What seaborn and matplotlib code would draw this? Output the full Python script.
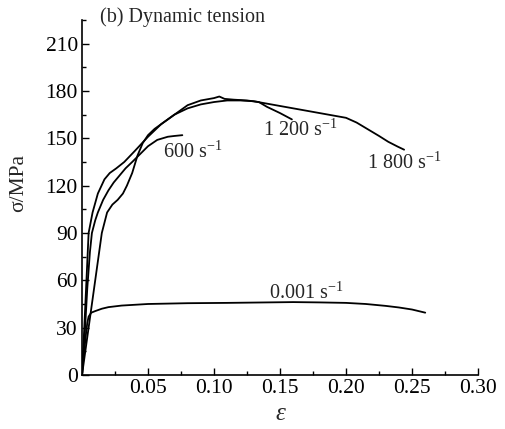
import numpy as np
import pandas as pd
import seaborn as sns
import matplotlib.pyplot as plt
from matplotlib.ticker import MultipleLocator

# strain / stress values
eps_0001 = [0, 0.001, 0.002, 0.003, 0.004, 0.005, 0.007, 0.010, 0.015, 0.020, 0.030,
            0.050, 0.080, 0.110, 0.140, 0.160, 0.180, 0.200, 0.215, 0.230, 0.240, 0.250, 0.260]
sig_0001 = [0, 10, 18, 26, 33, 37, 39.5, 40.5, 42, 43, 44,
            45, 45.5, 45.7, 46, 46.2, 46, 45.7, 45, 43.8, 42.8, 41.5, 39.5]

eps_600 = [0, 0.002, 0.004, 0.006, 0.0075, 0.010, 0.012, 0.016, 0.020, 0.024, 0.028,
           0.033, 0.038, 0.044, 0.050, 0.057, 0.065, 0.070, 0.076]
sig_600 = [0, 25, 55, 78, 90, 98, 103, 111, 117, 122, 126,
           131, 135, 140, 145, 149, 151, 151.5, 152]

eps_1200 = [0, 0.005, 0.010, 0.015, 0.019, 0.023, 0.027, 0.031, 0.034, 0.038, 0.042,
            0.046, 0.050, 0.055, 0.060, 0.070, 0.080, 0.090, 0.100, 0.104, 0.108,
            0.115, 0.125, 0.134, 0.140, 0.150, 0.159]
sig_1200 = [0, 30, 60, 90, 103, 108, 111, 115, 120, 128, 139,
            147, 152, 156, 159, 165, 171, 174, 175.5, 176.5, 175,
            174.5, 174, 173, 170, 166, 162]

eps_1800 = [0, 0.002, 0.005, 0.008, 0.012, 0.017, 0.021, 0.026, 0.032, 0.040, 0.050,
            0.060, 0.070, 0.080, 0.090, 0.100, 0.110, 0.120, 0.130, 0.140, 0.150,
            0.160, 0.170, 0.180, 0.190, 0.200, 0.208, 0.217, 0.225, 0.232, 0.239, 0.244]
sig_1800 = [0, 35, 90, 103, 115, 124, 128, 131, 135, 142, 151,
            159, 165, 169, 171.5, 173, 174, 174, 173.5, 172, 170.5,
            169, 167.5, 166, 164.5, 163, 160, 155.5, 151.5, 147.8, 144.8, 142.8]

curves = {"0.001": (eps_0001, sig_0001), "600": (eps_600, sig_600),
          "1200": (eps_1200, sig_1200), "1800": (eps_1800, sig_1800)}
df = pd.concat([pd.DataFrame({"eps": e, "sig": s, "rate": k}) for k, (e, s) in curves.items()])

sns.set_theme(style="ticks")
plt.rcParams["font.family"] = ["Liberation Serif", "DejaVu Serif"]
plt.rcParams["mathtext.fontset"] = "custom"
plt.rcParams["mathtext.rm"] = "Liberation Serif"
plt.rcParams["mathtext.it"] = "Liberation Serif:italic"

fig = plt.figure(figsize=(5.05, 4.29), dpi=100)
ax = fig.add_axes([0.1624, 0.1259, 0.7842, 0.8275])

sns.lineplot(data=df, x="eps", y="sig", units="rate", estimator=None, sort=False,
             color="black", linewidth=1.3, ax=ax)

ax.set_xlim(0, 0.30)
ax.set_ylim(0, 225)
ax.xaxis.set_minor_locator(MultipleLocator(0.025))
ax.yaxis.set_minor_locator(MultipleLocator(15))
ax.set_xticks(np.arange(0.05, 0.301, 0.05))
ax.set_xticklabels(["0.05", "0.10", "0.15", "0.20", "0.25", "0.30"])
ax.set_yticks(np.arange(0, 211, 30))

ax.tick_params(which="major", direction="in", length=5, width=1, labelsize=15.5,
               colors="black", pad=3)
ax.tick_params(which="minor", direction="in", length=3, width=1, colors="black")
for side in ["top", "right"]:
    ax.spines[side].set_visible(False)
for side in ["left", "bottom"]:
    ax.spines[side].set_linewidth(1.2)
    ax.spines[side].set_color("black")

ax.set_xlabel("ε", fontsize=18, style="italic")
ax.set_ylabel("σ/MPa", fontsize=15.5)
ax.xaxis.set_label_coords(0.5, -0.08)
ax.yaxis.set_label_coords(-0.135, 0.54)

fs = 14.5
ax.text(0.0136, 227, "(b) Dynamic tension", fontsize=fs, va="center", ha="left")
ax.text(0.061, 141.5, "600 s$^{-1}$", fontsize=fs, va="center", ha="left")
ax.text(0.137, 155, "1 200 s$^{-1}$", fontsize=fs, va="center", ha="left")
ax.text(0.216, 134.5, "1 800 s$^{-1}$", fontsize=fs, va="center", ha="left")
ax.text(0.142, 52, "0.001 s$^{-1}$", fontsize=fs, va="center", ha="left")

fig.savefig("out.png", dpi=100)
